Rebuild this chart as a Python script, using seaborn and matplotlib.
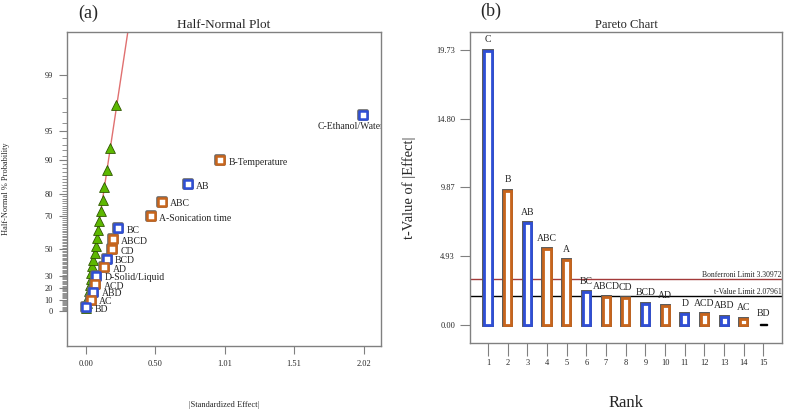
import numpy as np
import pandas as pd
import matplotlib
matplotlib.use('Agg')
import matplotlib.pyplot as plt
import matplotlib.patheffects as pe
import seaborn as sns
from statistics import NormalDist

# --- Half-normal plot: model terms (squares) ---
effect_terms = ['C-Ethanol/Water', 'B-Temperature', 'AB', 'ABC', 'A-Sonication time',
                'BC', 'ABCD', 'CD', 'BCD', 'AD', 'D-Solid/Liquid', 'ACD', 'ABD', 'AC', 'BD']
effect_size = [2.015, 0.977, 0.740, 0.551, 0.472, 0.234, 0.198, 0.193, 0.152, 0.135,
               0.075, 0.070, 0.055, 0.038, 0.002]
effect_prob = [96.7, 90.0, 83.3, 76.7, 70.0, 63.3, 56.7, 50.0, 43.3, 36.7,
               30.0, 23.3, 16.7, 10.0, 3.3]
effect_sign = ['+', '-', '+', '-', '-', '+', '-', '-', '+', '-', '+', '-', '+', '-', '+']

# error estimates (triangles)
error_size = [0.003, 0.010, 0.016, 0.022, 0.029, 0.035, 0.042, 0.049, 0.056, 0.064,
              0.072, 0.080, 0.089, 0.099, 0.109, 0.122, 0.136, 0.154, 0.178, 0.223]
error_prob = [2.5, 7.5, 12.5, 17.5, 22.5, 27.5, 32.5, 37.5, 42.5, 47.5,
              52.5, 57.5, 62.5, 67.5, 72.5, 77.5, 82.5, 87.5, 92.5, 97.5]

# fitted line through the error estimates
line_size = [0.0, 0.34]
line_slope = 9.95

prob_ticks = [0, 10, 20, 30, 50, 70, 80, 90, 95, 99]
size_ticks = [0.00, 0.50, 1.01, 1.51, 2.02]

# --- Pareto chart ---
pareto_terms = ['C', 'B', 'AB', 'ABC', 'A', 'BC', 'ABCD', 'CD', 'BCD', 'AD',
                'D', 'ACD', 'ABD', 'AC', 'BD']
pareto_t = [19.70, 9.64, 7.30, 5.43, 4.67, 2.35, 1.99, 1.94, 1.53, 1.36,
            0.79, 0.77, 0.60, 0.45, 0.05]
t_ticks = [0.00, 4.93, 9.87, 14.80, 19.73]
bonferroni = 3.30972
t_limit = 2.07961

BLUE = '#2f4fd6'
ORANGE = '#c8651c'
GREEN = '#5db800'
SPINE = '#808080'

sns.set_theme(style='white')
plt.rcParams['font.family'] = ['Liberation Serif', 'DejaVu Serif']
plt.rcParams['axes.edgecolor'] = SPINE
plt.rcParams['axes.linewidth'] = 1.0

nd = NormalDist()
def hn(p):
    return nd.inv_cdf(0.5 + p / 200.0)

fig = plt.figure(figsize=(7.87, 4.11), dpi=100)
ax1 = fig.add_axes([0.0851, 0.158, 0.399, 0.764])
ax2 = fig.add_axes([0.5976, 0.1662, 0.3957, 0.755])

# ---------- (a) Half-Normal plot ----------
df_eff = pd.DataFrame({'term': effect_terms, 'size': effect_size,
                       'z': [hn(p) for p in effect_prob], 'sign': effect_sign})
df_err = pd.DataFrame({'size': error_size, 'z': [hn(p) for p in error_prob]})

sns.lineplot(x=line_size, y=[line_slope * v for v in line_size], color='#e07070',
             lw=1.0, ax=ax1, zorder=1)
sns.scatterplot(data=df_err, x='size', y='z', marker='^', color=GREEN,
                edgecolor='#2f5500', linewidth=0.6, s=50, ax=ax1, zorder=2)
sns.scatterplot(data=df_eff, x='size', y='z', hue='sign', palette={'+': BLUE, '-': ORANGE},
                marker='s', s=32, legend=False, ax=ax1, zorder=3)
sq = ax1.collections[-1]
sq.set_edgecolors(sq.get_facecolors())
sq.set_facecolors('white')
sq.set_linewidth(1.8)
sq.set_path_effects([pe.Stroke(linewidth=2.6, foreground='#666666'), pe.Normal()])

for term, x, z in zip(df_eff['term'], df_eff['size'], df_eff['z']):
    if term.startswith('C-'):
        ax1.annotate(term, (x, z), xytext=(-9, -8), textcoords='offset points',
                     ha='center', va='center', fontsize=7, annotation_clip=False,
                     clip_on=True)
    else:
        ax1.annotate(term, (x, z), xytext=(6, -1.5), textcoords='offset points',
                     ha='left', va='center', fontsize=7)

ax1.set_xlim(-0.136, 2.143)
ax1.set_ylim(-0.38, 3.04)
ax1.set_xticks(size_ticks)
ax1.set_xticklabels([f'{v:.2f}' for v in size_ticks])
ax1.set_yticks([hn(p) for p in prob_ticks])
ax1.set_yticklabels([str(p) for p in prob_ticks])
minor = [hn(p) for p in range(1, 99) if p not in prob_ticks]
ax1.set_yticks(minor, minor=True)
ax1.tick_params(axis='both', which='major', direction='out', length=6, width=0.8,
                color=SPINE, labelsize=6, pad=4, bottom=True, left=True)
ax1.tick_params(axis='y', which='minor', direction='out', length=3.5, width=0.6,
                color=SPINE, left=True)
ax1.set_xlabel('|Standardized Effect|', fontsize=6)
ax1.set_ylabel('Half-Normal % Probability', fontsize=6)
ax1.xaxis.set_label_coords(0.5, -0.175)
ax1.yaxis.set_label_coords(-0.18, 0.5)
ax1.set_title('Half-Normal Plot', fontsize=9.5, pad=3)

# ---------- (b) Pareto chart ----------
keys = ['zero' if t < 0.1 else s for t, s in zip(pareto_t, effect_sign)]
df_p = pd.DataFrame({'rank': np.arange(1, len(pareto_t) + 1), 't': pareto_t,
                     'key': keys, 'term': pareto_terms})

ax2.axhline(bonferroni, color='#a33a3a', lw=1.0, zorder=0.5)
ax2.axhline(t_limit, color='black', lw=1.0, zorder=0.5)
sns.barplot(data=df_p, x='rank', y='t', hue='key',
            palette={'+': BLUE, '-': ORANGE, 'zero': 'black'},
            native_scale=True, dodge=False, width=0.36, fill=False, linewidth=2.0,
            legend=False, ax=ax2)
for p in ax2.patches:
    p.set_facecolor('white')
    p.set_zorder(2)
    if p.get_height() > 0.1:
        p.set_path_effects([pe.Stroke(linewidth=2.8, foreground='#555555'), pe.Normal()])
    else:
        p.set_linewidth(1.0)

for r, t, term in zip(df_p['rank'], df_p['t'], df_p['term']):
    ax2.annotate(term, (r, t), xytext=(0, 4.5), textcoords='offset points',
                 ha='center', va='bottom', fontsize=7)

ax2.text(1.0, bonferroni, 'Bonferroni Limit 3.30972', transform=ax2.get_yaxis_transform(),
         ha='right', va='bottom', fontsize=5.5)
ax2.text(1.0, t_limit, 't-Value Limit 2.07961', transform=ax2.get_yaxis_transform(),
         ha='right', va='bottom', fontsize=5.5)

ax2.set_xlim(0.1, 15.93)
ax2.set_ylim(-1.27, 21.0)
ax2.set_xticks(df_p['rank'])
ax2.set_xticklabels([str(r) for r in df_p['rank']])
ax2.set_yticks(t_ticks)
ax2.set_yticklabels([f'{v:.2f}' for v in t_ticks])
ax2.tick_params(axis='x', direction='out', length=9, width=0.8, color=SPINE,
                labelsize=6, pad=3, bottom=True)
ax2.tick_params(axis='y', direction='out', length=7, width=0.8, color=SPINE,
                labelsize=6, pad=4, left=True)
ax2.set_xlabel('Rank', fontsize=12)
ax2.set_ylabel('t-Value of |Effect|', fontsize=10.5)
ax2.xaxis.set_label_coords(0.5, -0.168)
ax2.yaxis.set_label_coords(-0.174, 0.5)
ax2.set_title('Pareto Chart', fontsize=9, pad=3)

fig.text(78 / 787, 1 - 13 / 411, '(a)', fontsize=13, va='center', ha='left')
fig.text(480 / 787, 1 - 11 / 411, '(b)', fontsize=13, va='center', ha='left')

fig.savefig('out.png', dpi=100)
